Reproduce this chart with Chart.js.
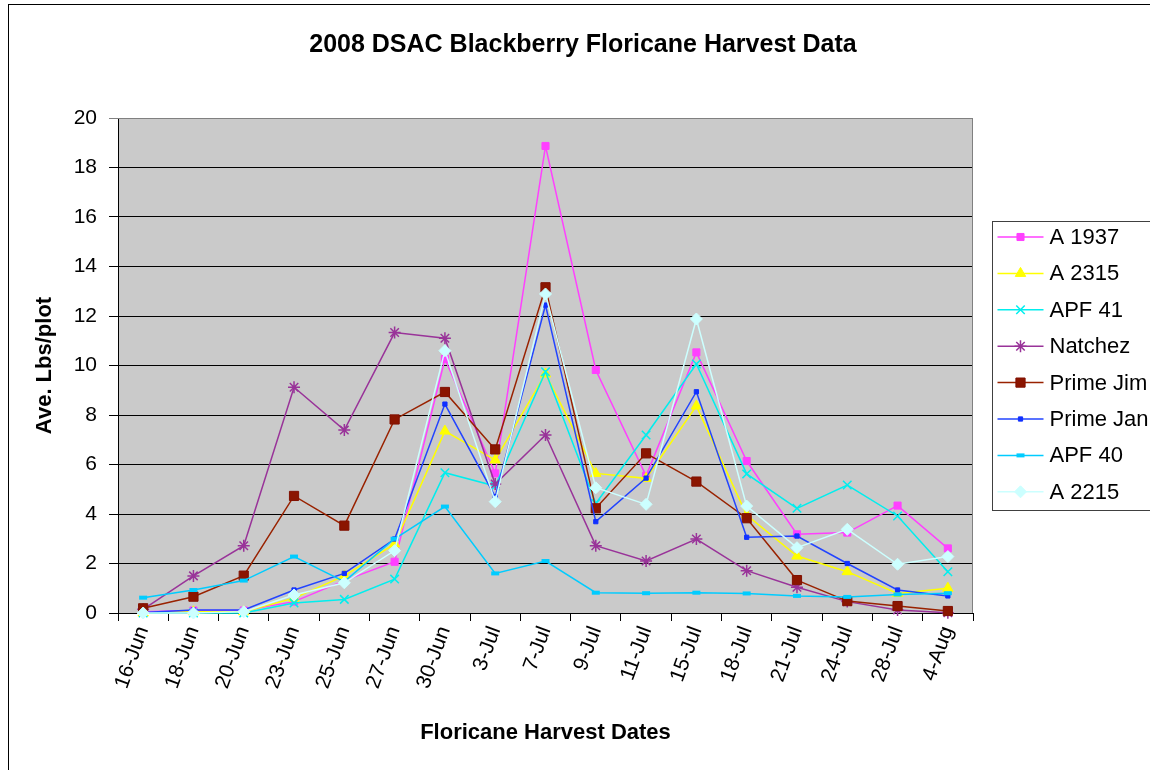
<!DOCTYPE html>
<html>
<head>
<meta charset="utf-8">
<title>2008 DSAC Blackberry Floricane Harvest Data</title>
<script src="https://cdn.jsdelivr.net/npm/chart.js@4.4.1/dist/chart.umd.min.js"></script>
<style>
  html, body { margin: 0; padding: 0; background: #ffffff; }
  #wrap { width: 1150px; height: 770px; position: relative; }
</style>
</head>
<body>
<div id="wrap"><canvas id="chart" width="1150" height="770"></canvas></div>
<script>
// Harvest dates (categories)
const harvestDates = ['16-Jun', '18-Jun', '20-Jun', '23-Jun', '25-Jun', '27-Jun', '30-Jun', '3-Jul', '7-Jul',
  '9-Jul', '11-Jul', '15-Jul', '18-Jul', '21-Jul', '24-Jul', '28-Jul', '4-Aug'];

// Average pounds per plot, one array per cultivar
const a1937    = [0.05, 0.1, 0.1, 0.46, 1.31, 2.07, 10.26, 5.64, 18.87, 9.82, 5.54, 10.53, 6.14, 3.18, 3.25, 4.34, 2.61];
const a2315    = [0, 0.05, 0.05, 0.6, 1.5, 2.79, 7.35, 6.18, 9.66, 5.64, 5.44, 8.36, 3.96, 2.3, 1.67, 0.79, 1.0];
const apf41    = [0, 0, 0, 0.4, 0.55, 1.37, 5.67, 5.13, 9.75, 4.43, 7.19, 10.06, 5.62, 4.23, 5.17, 3.92, 1.67];
const natchez  = [0.15, 1.5, 2.72, 9.12, 7.39, 11.33, 11.1, 5.21, 7.19, 2.72, 2.1, 2.99, 1.71, 1.04, 0.46, 0.12, 0.01];
const primeJim = [0.19, 0.66, 1.51, 4.73, 3.53, 7.82, 8.93, 6.61, 13.16, 4.23, 6.45, 5.31, 3.83, 1.33, 0.48, 0.28, 0.08];
const primeJan = [0.02, 0.12, 0.12, 0.93, 1.6, 2.99, 8.44, 4.7, 12.44, 3.69, 5.45, 8.94, 3.06, 3.11, 2.0, 0.93, 0.69];
const apf40    = [0.62, 0.93, 1.31, 2.28, 1.27, 3.0, 4.3, 1.6, 2.1, 0.82, 0.8, 0.82, 0.79, 0.69, 0.65, 0.75, 0.8];
const a2215    = [0, 0, 0.05, 0.73, 1.22, 2.52, 10.6, 4.5, 12.89, 5.06, 4.39, 11.88, 4.32, 2.64, 3.38, 1.97, 2.28];

// Value axis ticks
const yTickMin = 0;
const yTickMax = 20;
const yTickStep = 2;

const FONT = '"Liberation Sans", Arial, sans-serif';

function series(label, data, line, fill, style, radius, order, extra) {
  return Object.assign({
    label: label,
    data: data,
    borderColor: line,
    backgroundColor: fill,
    pointBackgroundColor: fill,
    pointBorderColor: fill,
    pointStyle: style,
    pointRadius: radius,
    pointBorderWidth: 1,
    borderWidth: 1.5,
    tension: 0,
    clip: 10,
    order: order
  }, extra || {});
}

const datasets = [
  series('A 1937', a1937, '#FF40FF', '#FF40FF', 'rect', 5, 7),
  series('A 2315', a2315, '#FFFF00', '#FFFF00', 'triangle', 6, 6),
  series('APF 41', apf41, '#00EEEE', '#00EEEE', 'crossRot', 6, 5, { pointBorderWidth: 1.5 }),
  series('Natchez', natchez, '#993399', '#993399', 'star', 6, 4, { pointBorderWidth: 1.5 }),
  series('Prime Jim', primeJim, '#992200', '#8B1500', 'rect', 6.5, 3, { pointBorderColor: '#801000' }),
  series('Prime Jan', primeJan, '#2244FF', '#1030FF', 'rect', 3, 2),
  series('APF 40', apf40, '#00CCFF', '#00CCFF', 'line', 4, 1, { pointBorderWidth: 4 }),
  series('A 2215', a2215, '#CCFFFF', '#CCFFFF', 'rectRot', 6, 0)
];

// Page frame, grey plot area and its outline
const framePlugin = {
  id: 'frame',
  beforeDraw(chart) {
    const ctx = chart.ctx;
    const a = chart.chartArea;
    ctx.save();
    ctx.fillStyle = '#ffffff';
    ctx.fillRect(0, 0, chart.width, chart.height);
    ctx.strokeStyle = '#000000';
    ctx.lineWidth = 1;
    ctx.strokeRect(8.5, 4.5, chart.width + 20, chart.height + 20);
    ctx.fillStyle = '#CACACA';
    ctx.fillRect(a.left, a.top, a.right - a.left, a.bottom - a.top);
    ctx.restore();
  },
  afterDatasetsDraw(chart) {
    const ctx = chart.ctx;
    const a = chart.chartArea;
    ctx.save();
    ctx.strokeStyle = '#808080';
    ctx.lineWidth = 1;
    ctx.beginPath();
    ctx.moveTo(a.left, a.top + 0.5);
    ctx.lineTo(a.right - 0.5, a.top + 0.5);
    ctx.lineTo(a.right - 0.5, a.bottom);
    ctx.stroke();
    ctx.restore();
  }
};

// Boxed legend at the right of the plot: line sample, marker and name per series
const sideLegendPlugin = {
  id: 'sideLegend',
  afterDraw(chart) {
    const ctx = chart.ctx;
    const a = chart.chartArea;
    const boxLeft = a.right + 19.5;
    const boxTop = 221.5;
    const boxBottom = 510.5;
    const rowStep = 36.4;
    ctx.save();
    ctx.strokeStyle = '#404040';
    ctx.lineWidth = 1;
    ctx.strokeRect(boxLeft, boxTop, chart.width + 20 - boxLeft, boxBottom - boxTop);
    chart.data.datasets.forEach((ds, i) => {
      const y = boxTop + 15.5 + i * rowStep;
      const x0 = boxLeft + 5;
      const x1 = boxLeft + 51;
      ctx.strokeStyle = ds.borderColor;
      ctx.lineWidth = 1.5;
      ctx.beginPath();
      ctx.moveTo(x0, y);
      ctx.lineTo(x1, y);
      ctx.stroke();
      ctx.fillStyle = ds.pointBackgroundColor;
      ctx.strokeStyle = ds.pointBorderColor;
      ctx.lineWidth = ds.pointBorderWidth;
      Chart.helpers.drawPoint(ctx, {
        pointStyle: ds.pointStyle,
        radius: ds.pointRadius,
        rotation: 0,
        borderWidth: ds.pointBorderWidth
      }, (x0 + x1) / 2, y);
      ctx.fillStyle = '#000000';
      ctx.font = '22px ' + FONT;
      ctx.textAlign = 'left';
      ctx.textBaseline = 'middle';
      ctx.fillText(ds.label, x1 + 6, y + 1);
    });
    ctx.restore();
  }
};

new Chart(document.getElementById('chart'), {
  type: 'line',
  data: { labels: harvestDates, datasets: datasets },
  plugins: [framePlugin, sideLegendPlugin],
  options: {
    responsive: false,
    animation: false,
    events: [],
    layout: { padding: { left: 16, right: 0, top: 0, bottom: 0 } },
    plugins: {
      legend: { display: false },
      tooltip: { enabled: false },
      title: {
        display: true,
        text: '2008 DSAC Blackberry Floricane Harvest Data',
        color: '#000000',
        font: { family: FONT, size: 25, weight: 'bold', lineHeight: 1.2 },
        padding: { top: 30, bottom: 58 }
      }
    },
    scales: {
      x: {
        type: 'category',
        offset: true,
        afterFit(scale) { scale.height = 157; },
        grid: {
          display: true,
          offset: true,
          drawOnChartArea: false,
          drawTicks: true,
          tickLength: 8,
          color: '#000000',
          lineWidth: 1
        },
        border: { display: true, color: '#000000', width: 1 },
        ticks: {
          autoSkip: false,
          maxRotation: 70,
          minRotation: 70,
          padding: 2,
          color: '#000000',
          font: { family: FONT, size: 21 }
        },
        title: {
          display: true,
          text: 'Floricane Harvest Dates',
          color: '#000000',
          font: { family: FONT, size: 22, weight: 'bold', lineHeight: 1.2 },
          padding: { top: 0, bottom: 24 }
        }
      },
      y: {
        type: 'linear',
        position: 'left',
        min: yTickMin,
        max: yTickMax,
        afterFit(scale) { scale.width = 102; },
        grid: {
          display: true,
          drawTicks: true,
          tickLength: 9,
          color: (c) => (c.tick && c.tick.value === yTickMax ? '#808080' : '#000000'),
          lineWidth: 1
        },
        border: { display: true, color: '#000000', width: 1 },
        ticks: {
          stepSize: yTickStep,
          padding: 12,
          color: '#000000',
          font: { family: FONT, size: 21 }
        },
        title: {
          display: true,
          text: 'Ave. Lbs/plot',
          color: '#000000',
          font: { family: FONT, size: 22, weight: 'bold', lineHeight: 1.2 },
          padding: { top: 16, bottom: 0 }
        }
      },
      legendSpace: {
        type: 'linear',
        position: 'right',
        display: true,
        afterFit(scale) { scale.width = 177; },
        grid: { display: false },
        border: { display: false },
        ticks: { display: false }
      }
    }
  }
});
</script>
</body>
</html>
